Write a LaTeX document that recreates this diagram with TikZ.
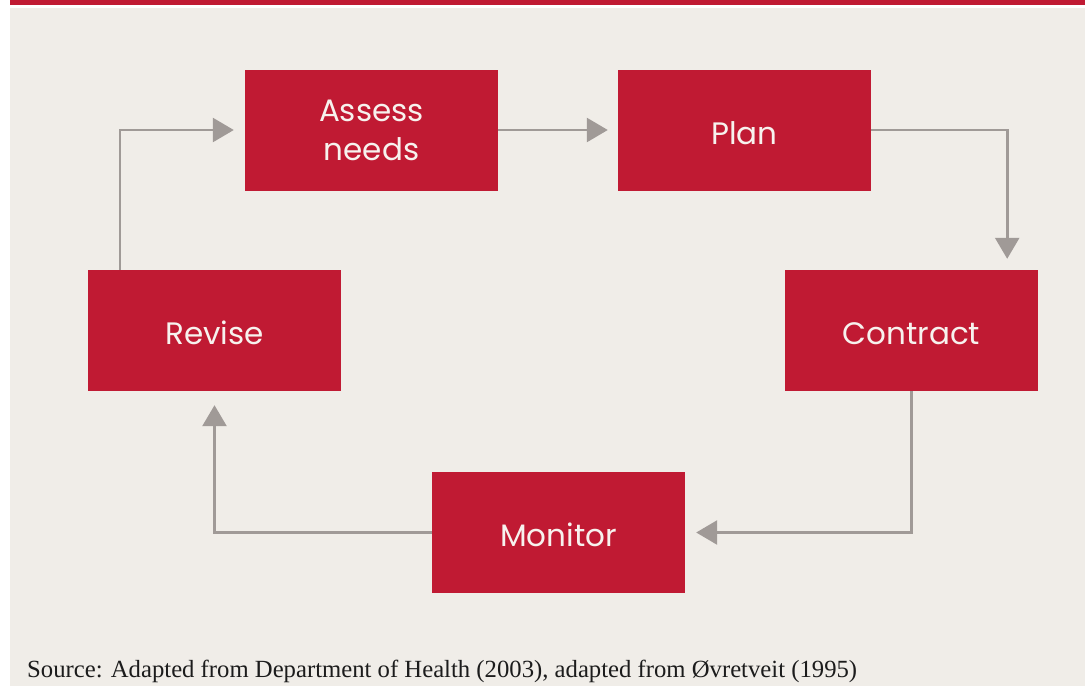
\documentclass[tikz,border=0pt]{standalone}
\usepackage{fontspec}
\setmainfont{Liberation Serif}
\newfontfamily\boxfont{Poppins}
\usetikzlibrary{arrows.meta,calc}
\definecolor{bgc}{HTML}{F0EDE8}
\definecolor{redc}{HTML}{C01A33}
\definecolor{arrc}{HTML}{A09A97}
\definecolor{txtc}{HTML}{F7F2EE}
\definecolor{capc}{HTML}{1C1C1C}
\begin{document}
\begin{tikzpicture}[x=1pt,y=-1pt,
  stepbox/.style={fill=redc,draw=none,minimum width=253pt,minimum height=121pt,inner sep=0pt,
    text=txtc,align=center,font=\boxfont\fontsize{31}{39}\selectfont},
  oneline/.style={text height=28pt,text depth=0pt},
  arr/.style={draw=arrc,line width=2.6pt,-{Triangle[width=24pt,length=21pt]}}]
\useasboundingbox (0,0) rectangle (1085,686);
\fill[white] (0,0) rectangle (1085,686);
\fill[redc] (10,0) rectangle (1085,4.5);
\fill[bgc] (10,7.5) rectangle (1085,686);
\node[stepbox] (assess) at (371.5,130) {Assess\\needs};
\node[stepbox,oneline] (plan) at (744.5,130) {Plan};
\node[stepbox,oneline] (revise) at (214.5,330.5) {Revise};
\node[stepbox,oneline] (contract) at (911.5,330.5) {Contract};
\node[stepbox,oneline] (monitor) at (558.5,532.5) {Monitor};
\coordinate (ctop) at ($(contract.north east)+(-31,0)$);
\coordinate (rtop) at ($(revise.north west)+(32,0)$);
\draw[arr,shorten >=10pt] (assess.east) -- (plan.west);
\draw[arr,shorten >=11pt] (plan.east) -| (ctop);
\draw[arr,shorten >=11pt] (contract.south) |- (monitor.east);
\draw[arr,shorten >=14pt] (monitor.west) -| (revise.south);
\draw[arr,shorten >=11pt] (rtop) |- (assess.west);
\node[anchor=base west,inner sep=0pt,text=capc,font=\fontsize{24.7}{30}\selectfont] (cap) at (27,677)
  {Source: Adapted from Department of Health (2003), adapted from Øvretveit (1995)};
\end{tikzpicture}
\end{document}
